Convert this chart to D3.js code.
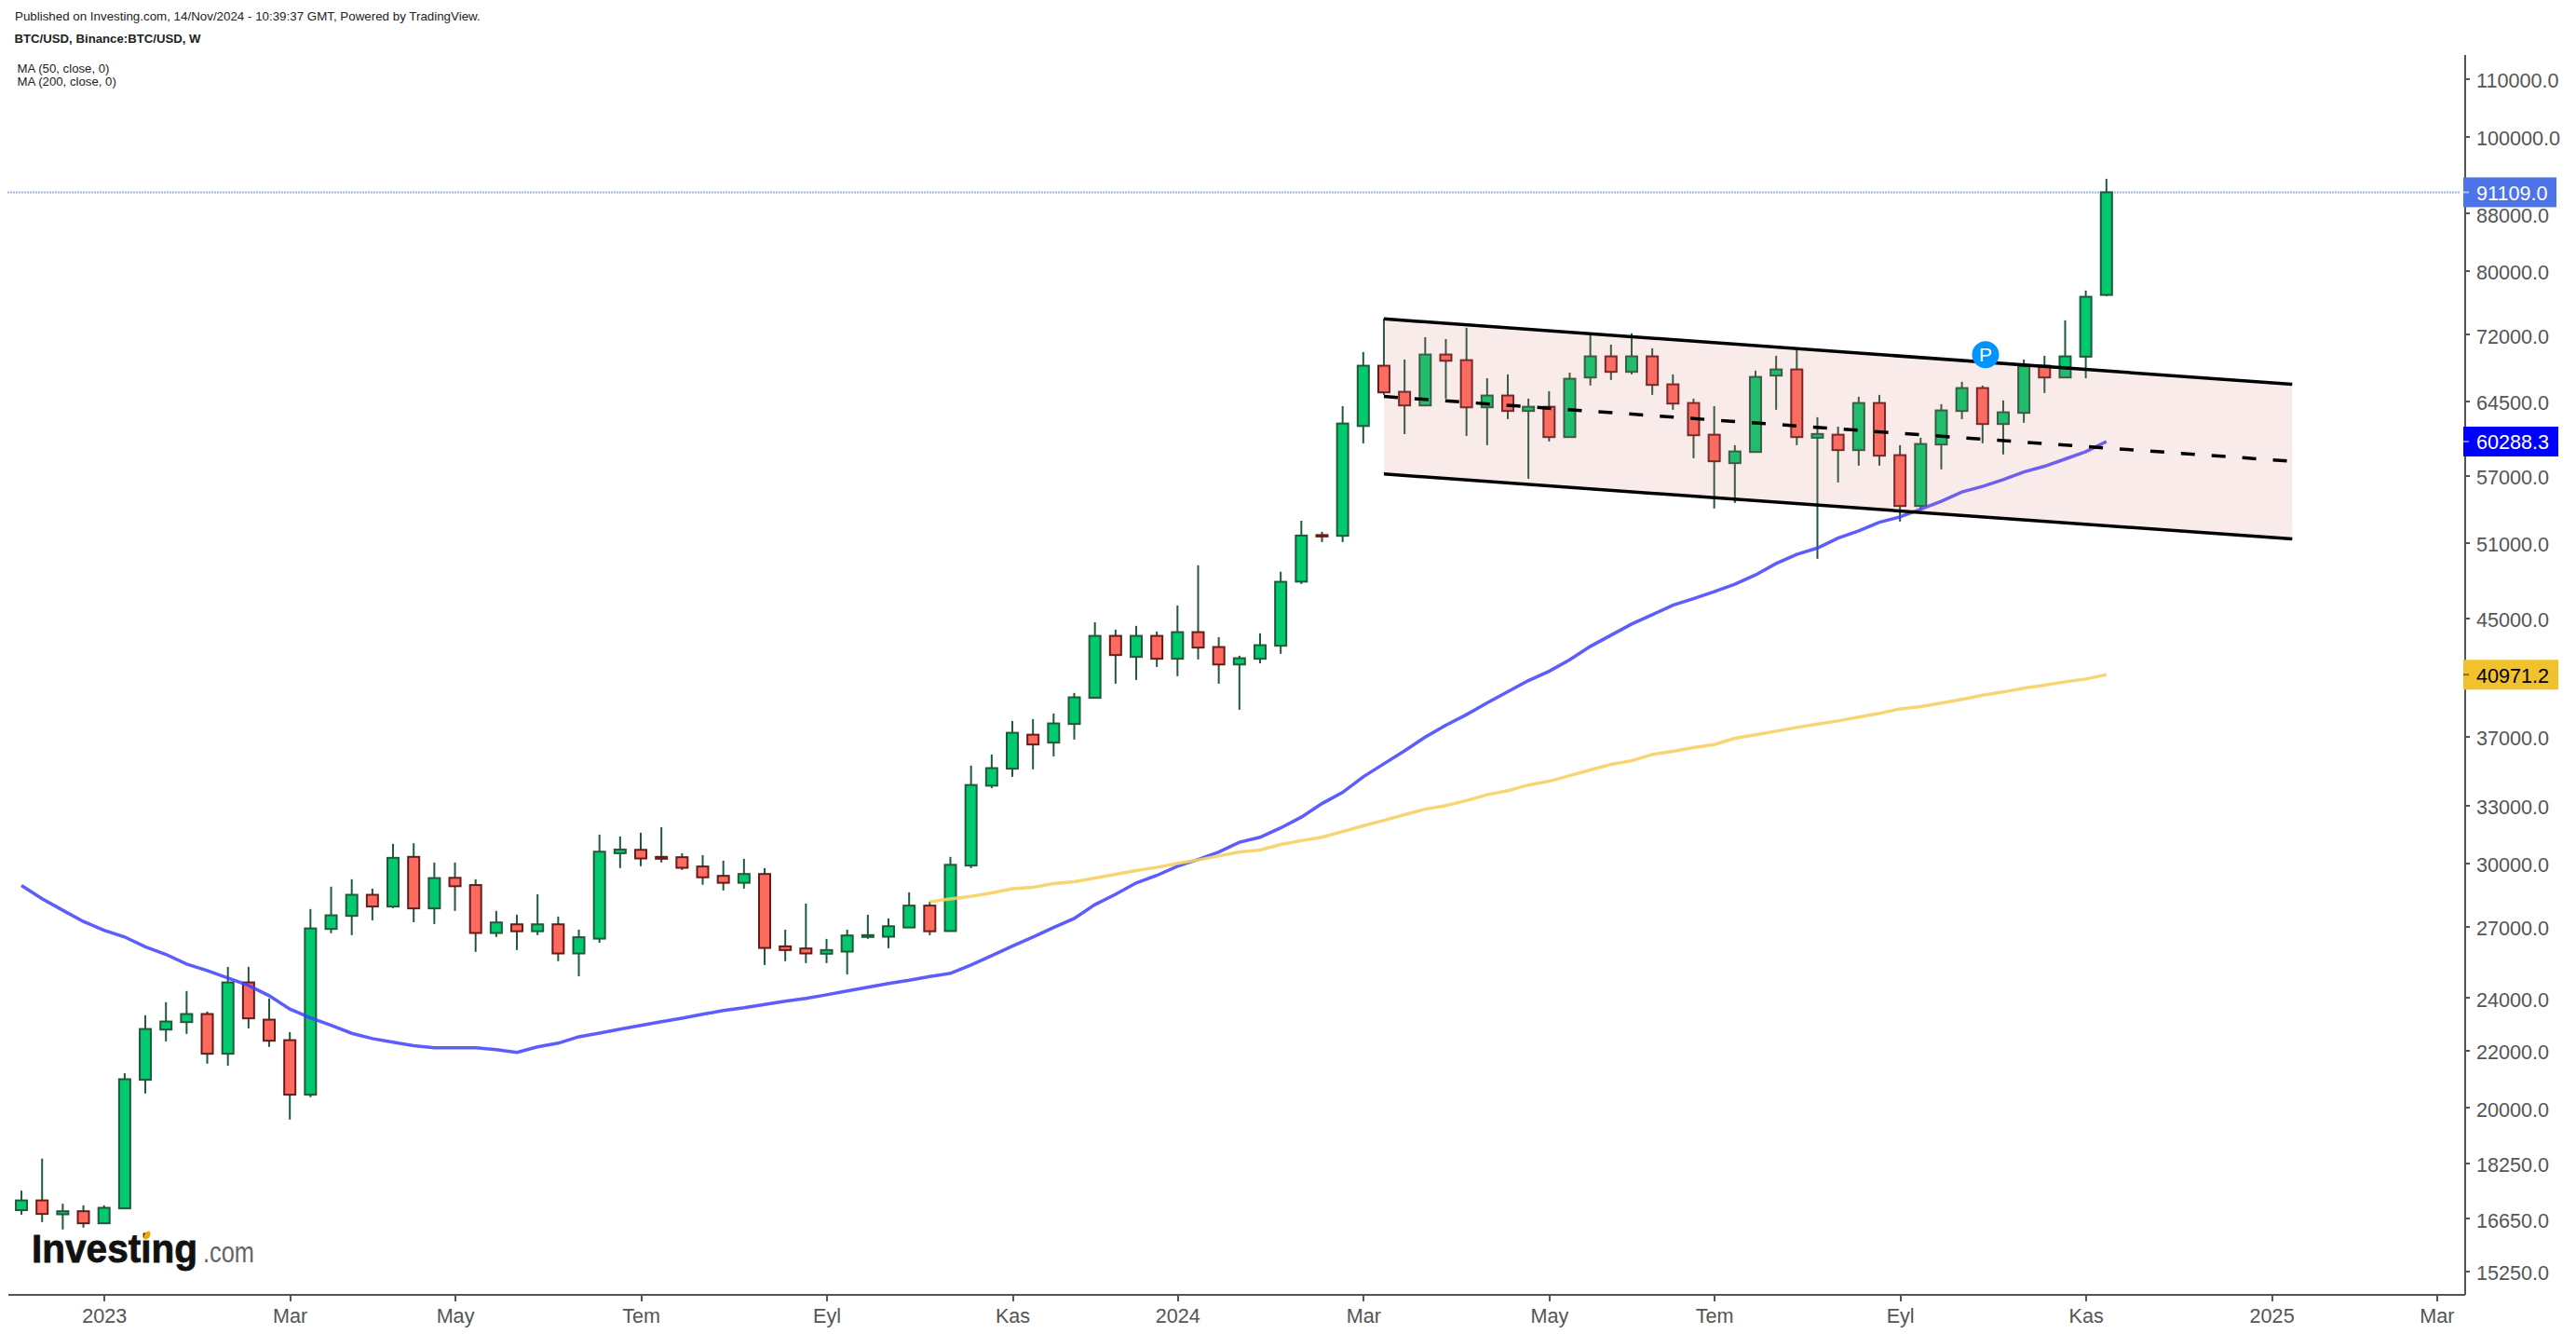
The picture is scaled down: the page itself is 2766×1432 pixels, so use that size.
<!DOCTYPE html>
<html>
<head>
<meta charset="utf-8">
<style>
  html, body { margin: 0; background: #fff; }
  svg { display: block; font-family: "Liberation Sans", Arial, sans-serif; }
  .axis path, .axis line { stroke: #555; stroke-width: 2px; shape-rendering: crispEdges; }
  .axis text { fill: #555; font-size: 21.6px; font-family: "Liberation Sans", Arial, sans-serif; }
</style>
<script src="https://d3js.org/d3.v7.min.js"></script>
</head>
<body>
<div id="chart"></div>
<script>
// weekly candles, first week 5 Dec 2022, last week 11 Nov 2024
const firstWeek = "2022-12-05";
const opens = [16875,17150,16760,16846,16512,16925,20944,22760,23043,23354,21867,24609,23137,22364,20433,26888,27477,28454,27906,30298,
  27820,29265,28917,26709,27096,26786,27096,25818,26460,30482,30655,30298,30283,29820,29361,29024,29452,26124,26033,25806,
  25898,26534,26544,26953,27949,26795,29866,34092,35064,37097,36612,37760,39430,43693,42197,43693,42067,43965,42893,41671,
  42067,42985,47801,51635,51571,61862,68357,65464,64002,69633,68988,63802,65063,63419,63862,60733,67039,69423,67664,69423,
  66279,64262,60974,58169,59253,67246,67936,60668,60974,59438,64262,58945,54183,59992,63419,65873,62063,63223,68357,67039,
  69390,76860];
const closes = [17150,16770,16846,16512,16941,20963,22782,23066,23354,21867,24609,23188,22343,20433,26913,27503,28454,27906,30250,27820,
  29253,28861,26709,27180,26786,27096,25818,26522,30560,30670,30218,30204,29755,29290,29024,29452,26056,25965,25818,25965,
  26600,26615,27011,27949,26786,29903,34129,35097,37212,36499,37795,39465,43693,42327,43693,42067,43965,42853,41671,42106,
  43025,47786,51595,51516,62115,68357,65404,64002,69633,68919,63802,65063,63419,63862,60733,66895,69423,67664,69423,66217,
  64202,60919,58349,59306,67101,67936,60733,61047,59438,64262,58890,54183,60047,63478,65873,62063,63281,68293,67039,69423,
  76625,91109];
const highs = [17430,18380,17057,17012,17012,21172,23307,23816,24261,23450,25253,25253,23963,22667,27790,28840,29195,28749,30959,30990,
  30018,30018,29195,27705,27533,28477,27447,26856,31438,31340,31534,31826,30482,30390,30111,30204,29741,26856,28048,26449,
  26856,27533,27361,28571,28134,30298,35243,35898,37953,38070,38425,39752,44691,44149,44422,44013,45956,49109,43605,42282,
  43877,48594,52877,51913,63932,69925,73910,69063,71665,71446,72790,66950,67381,64733,65534,67585,71969,70790,72118,70358,
  67381,64733,63932,59927,67800,69492,70141,62767,61795,64933,65133,59927,60668,64137,66556,66148,64534,69063,69492,73692,
  77423,93172];
const lows = [16750,16544,16344,16394,16494,16905,20474,22320,22598,21510,21440,22806,22116,19607,20348,26698,26615,27278,27833,27193,
  27109,27705,25886,26534,25965,26615,25489,24862,26282,29741,29833,30018,29650,28929,28660,28749,25330,25489,25410,25410,
  24941,26449,26044,26940,26615,26773,29741,33952,34595,35027,35788,36800,39390,40367,40619,41501,40871,42021,40367,38659,
  41753,42414,47617,51039,51039,60112,65133,61040,63985,64733,60854,59927,62572,56683,60297,60668,66148,66761,67381,65133,
  63546,58646,53957,54459,59190,63546,59927,49642,56335,57927,57927,52805,53874,57569,62572,60112,59010,62188,65336,67019,
  66950,76700];

const ma50 = [28898,28266,27735,27223,26832,26534,26102,25778,25370,25096,24791,24487,24074,23549,23208,22918,22620,22422,22286,22160,
  22082,22082,22082,22014,21912,22116,22252,22490,22630,22776,22916,23060,23195,23345,23490,23597,23725,23853,23963,24110,
  24261,24413,24563,24696,24849,24983,25332,25727,26134,26534,26953,27361,27993,28477,29017,29381,29833,30171,30546,31044,
  31301,31790,32361,33095,33718,34595,35351,36116,36948,37679,38350,39101,39832,40576,41205,42003,42939,43743,44558,45254,
  45970,46476,47012,47595,48335,49262,50003,50538,51380,51995,52747,53213,53899,54602,55450,55967,56600,57330,57864,58568,
  59280,60288.3];
// the 200 week average only starts at week 44 of this window
const ma200Start = 44;
const ma200 = [28115,28262,28374,28542,28737,28809,28986,29075,29253,29435,29620,29774,29972,30144,30342,30546,30640,30925,31125,31301,
  31600,31898,32190,32491,32790,32990,33263,33584,33806,34129,34345,34665,34990,35313,35530,35898,36085,36308,36499,36873,
  37095,37313,37545,37750,37953,38190,38425,38719,38866,39084,39326,39600,39813,40060,40273,40493,40682,40971.2];

const yTicks = [110000,100000,88000,80000,72000,64500,57000,51000,45000,37000,33000,30000,27000,24000,22000,20000,18250,16650,15250];
const xTickDates = ["2023-01-02","2023-03-06","2023-05-01","2023-07-03","2023-09-04","2023-11-06","2024-01-01","2024-03-04","2024-05-06","2024-07-01","2024-09-02","2024-11-04","2025-01-06","2025-03-03"];
const xTickLabels = ["2023","Mar","May","Tem","Eyl","Kas","2024","Mar","May","Tem","Eyl","Kas","2025","Mar"];

// hand drawn channel, price at left and right end
const channelDates = ["2024-03-11","2025-01-13"];
const channelTop = [73876,66279];
const channelMid = [64963,58349];
const channelBottom = [57127,51301];

const lastPrice = 91109.0, lastMa50 = 60288.3, lastMa200 = 40971.2;
const markerDate = "2024-10-01", markerPrice = 69620;

const W = 2766, H = 1432;
const plotLeft = 8, plotRight = 2646, plotTop = 58, plotBottom = 1389.5;

const date = s => new Date(s + "T00:00:00Z");
const weeks = d3.range(opens.length).map(i => d3.utcDay.offset(date(firstWeek), i * 7));

const x = d3.scaleUtc()
  .domain([new Date(Date.UTC(2022, 10, 30, 6)), new Date(Date.UTC(2025, 2, 12, 8))])
  .range([plotLeft, plotRight]);
const y = d3.scaleLog().domain([14677, 114556]).range([plotBottom, plotTop]);

const svg = d3.select("#chart").append("svg").attr("width", W).attr("height", H);

// last price line
svg.append("line")
  .attr("x1", plotLeft).attr("x2", plotRight - 4)
  .attr("y1", y(lastPrice)).attr("y2", y(lastPrice))
  .attr("stroke", "#a3b2e4").attr("stroke-width", 2).attr("stroke-dasharray", "2 1");

// candles
const candles = svg.append("g").selectAll("g").data(weeks).join("g");
candles.append("line")
  .attr("x1", d => x(d)).attr("x2", d => x(d))
  .attr("y1", (d, i) => y(highs[i])).attr("y2", (d, i) => y(lows[i]))
  .attr("stroke", "#1f5a3a").attr("stroke-width", 2);
candles.append("rect")
  .attr("x", d => x(d) - 6).attr("width", 12)
  .attr("y", (d, i) => y(Math.max(opens[i], closes[i])))
  .attr("height", (d, i) => Math.max(1, y(Math.min(opens[i], closes[i])) - y(Math.max(opens[i], closes[i]))))
  .attr("fill", (d, i) => closes[i] >= opens[i] ? "#00c96e" : "#ff6a5f")
  .attr("stroke", (d, i) => closes[i] >= opens[i] ? "#1f5a3a" : "#6b1a1a")
  .attr("stroke-width", 2);

// moving averages
const maLine = d3.line().x(d => x(d[0])).y(d => y(d[1]));
svg.append("path")
  .attr("d", maLine(weeks.map((d, i) => [d, ma50[i]])))
  .attr("fill", "none").attr("stroke", "#4040ff").attr("stroke-width", 3.5).attr("stroke-opacity", 0.85);
svg.append("path")
  .attr("d", maLine(ma200.map((v, i) => [weeks[i + ma200Start], v])))
  .attr("fill", "none").attr("stroke", "#f4d264").attr("stroke-width", 3.5).attr("stroke-opacity", 0.9);

// channel
const cx = channelDates.map(date);
svg.append("path")
  .attr("d", d3.line()([[x(cx[0]), y(channelTop[0])], [x(cx[1]), y(channelTop[1])], [x(cx[1]), y(channelBottom[1])], [x(cx[0]), y(channelBottom[0])]]) + "Z")
  .attr("fill", "#dd7979").attr("fill-opacity", 0.15);
[channelTop, channelBottom].forEach(c => {
  svg.append("line")
    .attr("x1", x(cx[0])).attr("x2", x(cx[1]))
    .attr("y1", y(c[0])).attr("y2", y(c[1]))
    .attr("stroke", "#000").attr("stroke-width", 3.5);
});
svg.append("line")
  .attr("x1", x(cx[0])).attr("x2", x(cx[1]))
  .attr("y1", y(channelMid[0])).attr("y2", y(channelMid[1]))
  .attr("stroke", "#000").attr("stroke-width", 3.5).attr("stroke-dasharray", "15 18");

// P marker
svg.append("circle")
  .attr("cx", x(date(markerDate))).attr("cy", y(markerPrice)).attr("r", 14.5)
  .attr("fill", "#0094ff");
svg.append("text")
  .attr("x", x(date(markerDate))).attr("y", y(markerPrice) + 7.5)
  .attr("text-anchor", "middle").attr("fill", "#fff").attr("font-size", 21).text("P");

// axes
const gy = svg.append("g").attr("class", "axis").attr("transform", `translate(${plotRight},0)`)
  .call(d3.axisRight(y).tickValues(yTicks).tickFormat(d => d.toFixed(1)).tickSize(6).tickSizeOuter(0).tickPadding(7));
gy.selectAll("text").attr("dy", "0.43em");
const gx = svg.append("g").attr("class", "axis").attr("transform", `translate(0,${plotBottom})`)
  .call(d3.axisBottom(x).tickValues(xTickDates.map(date)).tickFormat((d, i) => xTickLabels[i]).tickSize(7).tickSizeOuter(0));
gx.selectAll("text").attr("y", 30).attr("dy", 0);

// price badges
[[lastPrice, "#4d73e8", "#fff", "#b4c2f0", 100], [lastMa50, "#0000ff", "#fff", "#8080ff", 102], [lastMa200, "#f2c12e", "#000", "#8a6d1a", 102]].forEach(b => {
  const by = y(b[0]);
  svg.append("rect").attr("x", plotRight - 1).attr("y", by - 16).attr("width", b[4]).attr("height", 32).attr("fill", b[1]);
  svg.append("line").attr("x1", plotRight - 1).attr("x2", plotRight + 5).attr("y1", by).attr("y2", by).attr("stroke", b[3]).attr("stroke-width", 2);
  svg.append("text").attr("x", plotRight + 13).attr("y", by + 8.5).attr("fill", b[2]).attr("font-size", 21.6).text(b[0].toFixed(1));
});

// header
svg.append("text").attr("x", 16).attr("y", 22).attr("font-size", 13.35).attr("fill", "#222")
  .text("Published on Investing.com, 14/Nov/2024 - 10:39:37 GMT, Powered by TradingView.");
svg.append("text").attr("x", 15.5).attr("y", 45.5).attr("font-size", 13.2).attr("font-weight", "bold").attr("fill", "#222")
  .text("BTC/USD, Binance:BTC/USD, W");
svg.append("text").attr("x", 18.5).attr("y", 77.5).attr("font-size", 13.2).attr("fill", "#222").text("MA (50, close, 0)");
svg.append("text").attr("x", 18.5).attr("y", 91.5).attr("font-size", 13.2).attr("fill", "#222").text("MA (200, close, 0)");

// logo
svg.append("text").attr("x", 34).attr("y", 1355).attr("font-size", 43).attr("font-weight", "bold").attr("fill", "#111")
  .attr("stroke", "#111").attr("stroke-width", 0.8)
  .attr("textLength", 178).attr("lengthAdjust", "spacingAndGlyphs").text("Investing");
svg.append("text").attr("x", 218).attr("y", 1355).attr("font-size", 31).attr("fill", "#666")
  .attr("textLength", 55).attr("lengthAdjust", "spacingAndGlyphs").text(".com");
svg.append("ellipse").attr("cx", 158).attr("cy", 1326).attr("rx", 3).attr("ry", 5)
  .attr("transform", "rotate(30 158 1326)").attr("fill", "#f7a600");
</script>
</body>
</html>
